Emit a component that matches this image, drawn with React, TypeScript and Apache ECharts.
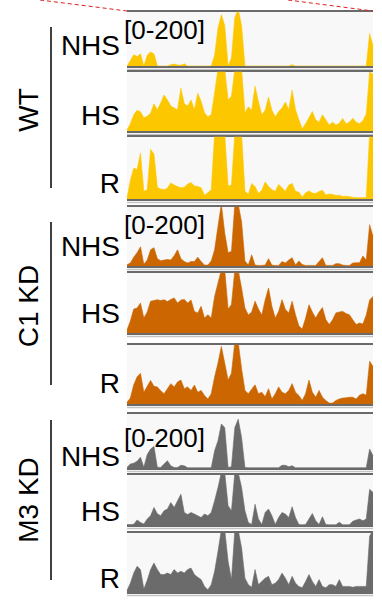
import React, { useEffect, useRef } from "react";
import * as echarts from "echarts";

// genomic bins across the zoomed locus (74 bins)
const bins: string[] = Array.from({ length: 74 }, (_, i) => String(i));
const rangeLabel = "[0-200]";
const groupNames = ["WT", "C1 KD", "M3 KD"];
const conditionNames = ["NHS", "HS", "R"];

const wtNHS = [0,20,42,35,45,0,40,52,45,0,0,0,0,5,7,4,3,8,0,0,0,0,0,0,0,0,40,140,190,150,0,30,180,210,150,0,0,0,0,0,0,0,0,0,0,0,0,0,0,5,0,0,0,0,0,0,0,0,0,0,0,0,0,0,0,0,0,0,0,0,0,0,120,75];
const wtHS = [3,25,55,70,65,45,50,60,92,72,95,122,105,85,78,72,145,92,85,105,72,128,100,62,48,55,130,210,210,210,105,118,210,210,210,62,82,70,152,100,55,70,115,70,48,66,78,98,72,138,72,38,8,25,45,66,38,30,55,38,20,30,20,26,42,25,30,43,30,25,35,58,200,192];
const wtR = [4,60,100,95,148,25,30,160,145,38,32,30,35,52,45,40,36,38,48,53,42,40,36,12,20,30,210,210,210,210,42,45,210,210,210,25,15,50,40,18,28,55,40,30,25,47,36,25,45,50,25,22,6,20,26,19,18,24,28,13,16,15,11,12,8,9,8,5,5,4,4,5,210,210];
const c1NHS = [4,10,30,45,65,6,20,55,62,25,18,20,22,20,35,55,25,15,10,15,15,30,15,3,3,17,55,135,210,112,45,50,210,210,150,17,3,38,3,2,2,3,25,3,2,2,15,10,20,28,3,17,5,2,2,2,2,15,28,2,2,2,8,8,3,2,2,10,11,11,34,20,140,101];
const c1HS = [10,40,80,83,100,50,70,106,108,111,108,111,105,112,117,100,110,112,100,110,72,67,89,50,61,50,122,167,210,210,80,95,210,210,150,83,60,70,106,80,60,110,150,89,50,72,111,78,67,106,61,24,13,50,94,70,50,70,85,45,28,44,67,70,72,65,61,44,28,33,30,60,110,122];
const c1R = [6,20,65,92,104,40,60,80,60,58,45,35,52,69,58,75,81,52,58,46,64,40,46,29,17,35,92,139,195,139,81,104,210,210,120,46,35,50,65,35,40,25,52,17,35,58,40,35,46,69,40,29,12,35,81,40,23,46,23,12,3,3,12,17,20,21,23,23,17,30,35,30,145,127];
const m3NHS = [2,15,18,25,40,3,50,70,80,3,2,15,27,8,2,2,10,8,1,1,1,1,1,1,1,1,64,101,163,150,2,5,150,181,113,2,1,1,1,1,1,1,1,1,1,1,10,10,5,8,1,1,1,1,1,1,1,1,1,1,1,1,1,1,1,1,1,1,1,1,1,1,70,46];
const m3HS = [2,2,3,20,10,4,24,37,70,45,37,57,64,90,70,97,123,50,42,50,44,37,30,44,37,50,97,150,210,210,77,57,210,210,150,57,10,2,83,24,2,50,64,37,2,30,50,44,30,73,30,2,1,2,24,46,17,2,33,2,1,1,1,11,1,1,1,15,20,24,17,24,143,130];
const m3R = [5,30,64,87,76,10,40,76,98,76,59,59,64,59,76,64,70,64,76,81,59,50,42,19,8,25,70,138,210,210,104,42,210,210,150,47,25,16,76,25,36,47,53,25,30,42,64,47,25,53,30,19,14,36,59,36,19,42,19,14,25,25,19,42,19,19,19,16,19,19,19,19,189,210];

const WT_COLOR = "#FDC700";
const C1_COLOR = "#CC6600";
const M3_COLOR = "#6B6B6B";

const trackData = [wtNHS, wtHS, wtR, c1NHS, c1HS, c1R, m3NHS, m3HS, m3R];
const trackColors = [WT_COLOR, WT_COLOR, WT_COLOR, C1_COLOR, C1_COLOR, C1_COLOR, M3_COLOR, M3_COLOR, M3_COLOR];

// layout (pixels)
const PANEL_LEFT = 127;
const PANEL_WIDTH = 246;
const trackTops = [11, 71, 136, 206, 272, 344, 413, 474, 532];
const trackBottoms = [67, 132, 200, 267, 334, 405, 469, 526, 593];
const labelCenters = [45, 115, 183, 246, 313, 383, 456, 511, 578];
const groupCenters = [110, 306, 500];
const groupLineTops = [27, 222, 420];
const groupLineBottoms = [188, 385, 580];
const rangeLabelTops = [17, 212, 425];

export default function App() {
  const ref = useRef<HTMLDivElement>(null);
  useEffect(() => {
    if (!ref.current) return;
    const chart = echarts.init(ref.current, undefined, { renderer: "svg" });
    const grids: any[] = [];
    const xAxes: any[] = [];
    const yAxes: any[] = [];
    const series: any[] = [];
    const graphic: any[] = [];
    const font = "'Liberation Sans', Arial, sans-serif";

    trackData.forEach((data, k) => {
      const top = trackTops[k];
      const bottom = trackBottoms[k];
      grids.push({
        left: PANEL_LEFT,
        width: PANEL_WIDTH,
        top: top + 1,
        height: bottom - top - 2,
        show: true,
        backgroundColor: "#f8f8f8",
        borderWidth: 0,
      });
      xAxes.push({
        type: "category",
        gridIndex: k,
        data: bins,
        boundaryGap: false,
        show: false,
      });
      yAxes.push({ type: "value", gridIndex: k, min: 0, max: 200, show: false });
      series.push({
        type: "line",
        xAxisIndex: k,
        yAxisIndex: k,
        data,
        symbol: "none",
        silent: true,
        lineStyle: { width: 0.6, color: trackColors[k] },
        areaStyle: { color: trackColors[k], opacity: 1 },
      });
      graphic.push({
        type: "line",
        shape: { x1: PANEL_LEFT, y1: top, x2: PANEL_LEFT + PANEL_WIDTH, y2: top },
        style: { stroke: "#6a6a6a", lineWidth: 2 },
      });
      graphic.push({
        type: "line",
        shape: { x1: PANEL_LEFT, y1: bottom, x2: PANEL_LEFT + PANEL_WIDTH, y2: bottom },
        style: { stroke: "#6a6a6a", lineWidth: 2 },
      });
      graphic.push({
        type: "line",
        shape: { x1: PANEL_LEFT, y1: bottom + 2.5, x2: PANEL_LEFT + PANEL_WIDTH, y2: bottom + 2.5 },
        style: { stroke: "#c4c4c4", lineWidth: 1.5 },
      });
      graphic.push({
        type: "text",
        x: 120,
        y: labelCenters[k],
        style: {
          text: conditionNames[k % 3],
          fontSize: 28,
          fontFamily: font,
          fill: "#000",
          align: "right",
          verticalAlign: "middle",
        },
      });
    });

    groupNames.forEach((g, gi) => {
      graphic.push({
        type: "text",
        x: 28,
        y: groupCenters[gi],
        rotation: Math.PI / 2,
        style: {
          text: g,
          fontSize: 28,
          fontFamily: font,
          fill: "#000",
          align: "center",
          verticalAlign: "middle",
        },
      });
      graphic.push({
        type: "line",
        shape: { x1: 51, y1: groupLineTops[gi], x2: 51, y2: groupLineBottoms[gi] },
        style: { stroke: "#000", lineWidth: 1.5 },
      });
      graphic.push({
        type: "text",
        x: 124,
        y: rangeLabelTops[gi],
        z: 10,
        style: {
          text: rangeLabel,
          fontSize: 26,
          fontFamily: font,
          fill: "#000",
          align: "left",
          verticalAlign: "top",
        },
      });
    });

    // zoom guide lines
    graphic.push({
      type: "line",
      shape: { x1: 40, y1: 0, x2: PANEL_LEFT, y2: 11 },
      style: { stroke: "#e0201e", lineWidth: 1, lineDash: [4, 3] },
    });
    graphic.push({
      type: "line",
      shape: { x1: 288, y1: 0, x2: PANEL_LEFT + PANEL_WIDTH, y2: 11 },
      style: { stroke: "#e0201e", lineWidth: 1, lineDash: [4, 3] },
    });

    chart.setOption({
      animation: false,
      backgroundColor: "#ffffff",
      grid: grids,
      xAxis: xAxes,
      yAxis: yAxes,
      series,
      graphic,
    });
    return () => chart.dispose();
  }, []);
  return (
    <div
      ref={ref}
      style={{ position: "fixed", left: 0, top: 0, width: 382, height: 605 }}
    />
  );
}
